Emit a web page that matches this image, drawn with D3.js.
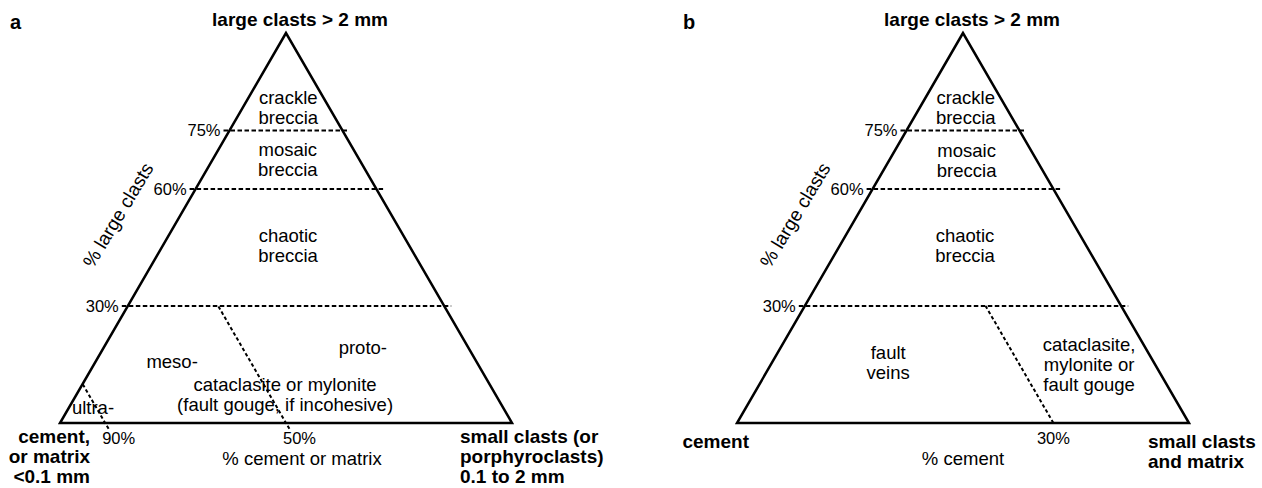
<!DOCTYPE html>
<html>
<head>
<meta charset="utf-8">
<script src="https://cdn.jsdelivr.net/npm/d3@7"></script>
<style>
  body { margin: 0; background: #fff; }
  svg text { font-family: Arial, "Liberation Sans", Helvetica, sans-serif; fill: #000; }
</style>
</head>
<body>
<svg id="chart" width="1262" height="488"></svg>
<script>
// % large clasts boundaries (horizontal dashed lines)
var largeClastLevels = [75, 60, 30];
var largeClastLabels = ["75%", "60%", "30%"];

// panel a
var cementBoundsA = [{cement: 50, top: 30}, {cement: 90, top: 10}];
var cementTicksA = [90, 50];
var cementTickLabelsA = ["90%", "50%"];
var regionsA = [
  {lines: ["crackle", "breccia"], large: 81, cement: 9},
  {lines: ["mosaic", "breccia"], large: 67.6, cement: 15.8},
  {lines: ["chaotic", "breccia"], large: 45.5, cement: 26.8},
  {lines: ["meso-"], large: 15.8, cement: 67.3},
  {lines: ["proto-"], large: 19.4, cement: 23.3},
  {lines: ["cataclasite or mylonite", "(fault gouge, if incohesive)"], large: 7.2, cement: 46.6},
  {lines: ["ultra-"], large: 4, cement: 90.7}
];
var apexLabelA = "large clasts > 2 mm";
var leftLabelA = ["cement,", "or matrix", "<0.1 mm"];
var rightLabelA = ["small clasts (or", "porphyroclasts)", "0.1 to 2 mm"];
var sideAxisLabelA = "% large clasts";
var baseAxisLabelA = "% cement or matrix";

// panel b
var cementBoundsB = [{cement: 30, top: 30}];
var cementTicksB = [30];
var cementTickLabelsB = ["30%"];
var regionsB = [
  {lines: ["crackle", "breccia"], large: 81, cement: 8.9},
  {lines: ["mosaic", "breccia"], large: 67.2, cement: 15.6},
  {lines: ["chaotic", "breccia"], large: 45.5, cement: 26.8},
  {lines: ["fault", "veins"], large: 15.5, cement: 58.8},
  {lines: ["cataclasite,", "mylonite or", "fault gouge"], large: 15, cement: 14.6}
];
var apexLabelB = "large clasts > 2 mm";
var leftLabelB = ["cement"];
var rightLabelB = ["small clasts", "and matrix"];
var sideAxisLabelB = "% large clasts";
var baseAxisLabelB = "% cement";

var svg = d3.select("#chart");

function drawPanel(cfg) {
  var side = cfg.right - cfg.left,
      apexX = (cfg.left + cfg.right) / 2;

  var y = d3.scaleLinear().domain([0, 100]).range([cfg.base, cfg.top]);
  var xc = d3.scaleLinear().domain([0, 100]).range([cfg.right, cfg.left]);
  var shift = d3.scaleLinear().domain([0, 100]).range([0, side / 2]);

  function pt(large, cement) {
    return [xc(cement) - shift(large), y(large)];
  }

  var g = svg.append("g").attr("class", "panel-" + cfg.letter);
  var line = d3.line();

  // triangle
  g.append("path")
      .attr("d", line([pt(100, 0), pt(0, 100), pt(0, 0)]) + "Z")
      .attr("fill", "none")
      .attr("stroke", "#000")
      .attr("stroke-width", 2.5)
      .attr("stroke-linejoin", "miter");

  // large clast boundaries
  g.selectAll(".level")
      .data(largeClastLevels)
      .enter()
      .append("line")
      .attr("class", "level")
      .attr("x1", function(d) { return pt(d, 100 - d)[0] - 6; })
      .attr("x2", function(d) { return pt(d, 0)[0] + 7; })
      .attr("y1", function(d) { return y(d); })
      .attr("y2", function(d) { return y(d); })
      .attr("stroke", "#000")
      .attr("stroke-width", 2)
      .attr("stroke-dasharray", "4.5,2.5");

  g.selectAll(".level-label")
      .data(largeClastLevels)
      .enter()
      .append("text")
      .attr("class", "level-label")
      .attr("x", function(d) { return pt(d, 100 - d)[0] - 9; })
      .attr("y", function(d) { return y(d) + 5.5; })
      .attr("text-anchor", "end")
      .style("font-size", "16.5px")
      .text(function(d, i) { return largeClastLabels[i]; });

  // cement boundaries
  g.selectAll(".cement-bound")
      .data(cfg.bounds)
      .enter()
      .append("path")
      .attr("class", "cement-bound")
      .attr("d", function(d) { return line([pt(cfg.below, d.cement), pt(d.top, d.cement)]); })
      .attr("stroke", "#000")
      .attr("stroke-width", 2)
      .attr("stroke-dasharray", "3.5,2.5");

  g.selectAll(".cement-tick")
      .data(cfg.ticks)
      .enter()
      .append("text")
      .attr("class", "cement-tick")
      .attr("x", function(d) { return pt(0, d)[0] + cfg.tickDx; })
      .attr("y", cfg.base + 21)
      .attr("text-anchor", cfg.tickAnchor)
      .style("font-size", "16.5px")
      .text(function(d, i) { return cfg.tickLabels[i]; });

  // region names
  var lh = 20;
  g.selectAll(".region")
      .data(cfg.regions)
      .enter()
      .append("text")
      .attr("class", "region")
      .attr("text-anchor", "middle")
      .style("font-size", "18.5px")
      .each(function(d) {
        var p = pt(d.large, d.cement);
        var t = d3.select(this);
        var y0 = p[1] - (d.lines.length - 1) * lh / 2 + 6.5;
        d.lines.forEach(function(s, i) {
          t.append("tspan").attr("x", p[0]).attr("y", y0 + i * lh).text(s);
        });
      });

  // vertex labels
  g.append("text")
      .attr("x", apexX + cfg.apexDx)
      .attr("y", cfg.top - 7)
      .attr("text-anchor", "middle")
      .style("font-size", "19px")
      .style("font-weight", "bold")
      .text(cfg.apexLabel);

  var leftT = g.append("text")
      .attr("text-anchor", "end")
      .style("font-size", "19px")
      .style("font-weight", "bold");
  cfg.leftLabel.forEach(function(s, i) {
    leftT.append("tspan").attr("x", cfg.left + cfg.leftDx).attr("y", cfg.base + cfg.cornerDy + i * 20).text(s);
  });

  var rightT = g.append("text")
      .attr("text-anchor", "start")
      .style("font-size", "19px")
      .style("font-weight", "bold");
  cfg.rightLabel.forEach(function(s, i) {
    rightT.append("tspan").attr("x", cfg.right + cfg.rightDx).attr("y", cfg.base + cfg.cornerDy + i * 20).text(s);
  });

  // axis titles
  g.append("text")
      .attr("x", apexX + cfg.axisDx)
      .attr("y", cfg.base + 42)
      .attr("text-anchor", "middle")
      .style("font-size", "18.5px")
      .text(cfg.baseAxisLabel);

  g.append("text")
      .attr("transform", "translate(" + (apexX - 168) + "," + (y(50) - 13) + ") rotate(-59)")
      .attr("text-anchor", "middle")
      .attr("dy", "0.35em")
      .style("font-size", "19px")
      .text(cfg.sideAxisLabel);

  // panel letter
  g.append("text")
      .attr("x", cfg.letterX)
      .attr("y", 29)
      .style("font-size", "20px")
      .style("font-weight", "bold")
      .text(cfg.letter);
}

drawPanel({
  letter: "a", letterX: 10,
  left: 60, right: 512, base: 423, top: 33,
  bounds: cementBoundsA, below: -1.5,
  ticks: cementTicksA, tickLabels: cementTickLabelsA, tickAnchor: "start", tickDx: -3,
  regions: regionsA,
  apexLabel: apexLabelA, apexDx: 14,
  leftLabel: leftLabelA, leftDx: 30,
  rightLabel: rightLabelA, rightDx: -52,
  cornerDy: 20,
  baseAxisLabel: baseAxisLabelA, axisDx: 16,
  sideAxisLabel: sideAxisLabelA
});

drawPanel({
  letter: "b", letterX: 683,
  left: 737, right: 1189, base: 423, top: 33,
  bounds: cementBoundsB, below: 0,
  ticks: cementTicksB, tickLabels: cementTickLabelsB, tickAnchor: "middle", tickDx: 0,
  regions: regionsB,
  apexLabel: apexLabelB, apexDx: 9,
  leftLabel: leftLabelB, leftDx: 12,
  rightLabel: rightLabelB, rightDx: -41,
  cornerDy: 25,
  baseAxisLabel: baseAxisLabelB, axisDx: 0,
  sideAxisLabel: sideAxisLabelB
});
</script>
</body>
</html>
